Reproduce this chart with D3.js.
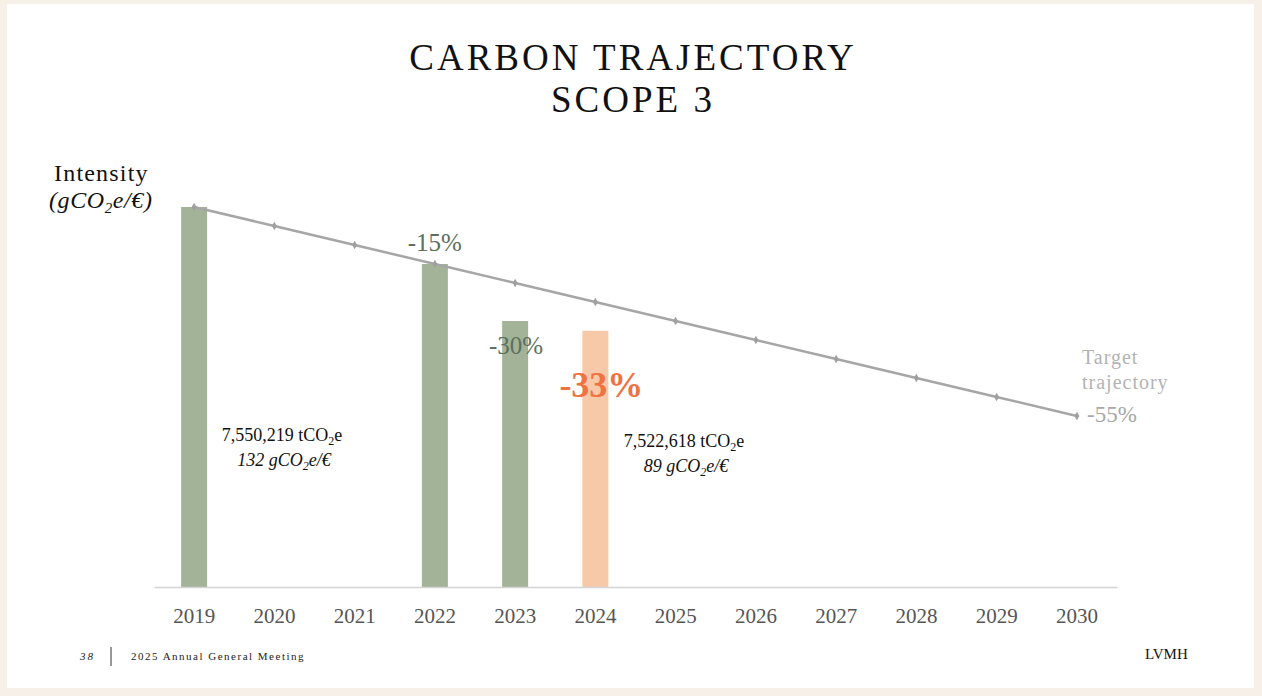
<!DOCTYPE html>
<html>
<head>
<meta charset="utf-8">
<script src="https://cdn.jsdelivr.net/npm/d3@7"></script>
<style>
  html, body { margin: 0; padding: 0; background: #f7f0e9; }
  svg { display: block; }
  text { font-family: "Liberation Serif", "DejaVu Serif", serif; }
</style>
</head>
<body>
<svg width="1262" height="696"></svg>
<script>
// chart data
var years = ["2019", "2020", "2021", "2022", "2023", "2024", "2025", "2026", "2027", "2028", "2029", "2030"];
var barYears = ["2019", "2022", "2023", "2024"];
var barValues = [132, 112.2, 92.4, 89];        // gCO2e/€
var targetValues = [132, 125.4, 118.8, 112.2, 105.6, 99, 92.4, 85.8, 79.2, 72.6, 66, 59.4];
var barLabels = ["", "-15%", "-30%", "-33%"];

var svg = d3.select("svg");

// white panel
svg.append("rect")
    .attr("x", 7).attr("y", 4)
    .attr("width", 1247).attr("height", 684)
    .attr("fill", "#ffffff");

// title
svg.append("text")
    .attr("x", 633).attr("y", 70)
    .attr("text-anchor", "middle")
    .style("font-size", "37px").style("letter-spacing", "3px")
    .attr("fill", "#111")
    .text("CARBON TRAJECTORY");
svg.append("text")
    .attr("x", 633).attr("y", 112)
    .attr("text-anchor", "middle")
    .style("font-size", "37px").style("letter-spacing", "3px")
    .attr("fill", "#111")
    .text("SCOPE 3");

var x = d3.scaleBand().domain(years).range([154, 1117]).padding(0),
    y = d3.scaleLinear().domain([0, 132]).range([587, 207]);

function cx(yr) { return x(yr) + x.bandwidth() / 2; }

var g = svg.append("g");

// bars
var barW = 26;
var bars = barYears.map(function(yr, i) { return {year: yr, value: barValues[i], label: barLabels[i]}; });
g.selectAll(".bar")
    .data(bars)
  .enter().append("rect")
    .attr("class", "bar")
    .attr("x", function(d) { return cx(d.year) - barW / 2; })
    .attr("y", function(d) { return y(d.value); })
    .attr("width", barW)
    .attr("height", function(d) { return y(0) - y(d.value); })
    .attr("fill", function(d) { return d.year === "2024" ? "#f7c9a9" : "#a3b398"; });

// x axis
var xAxis = g.append("g")
    .attr("transform", "translate(0," + y(0) + ")")
    .call(d3.axisBottom(x).tickSize(0).tickPadding(21));
xAxis.select(".domain").attr("stroke", "#d4d4d4").attr("stroke-width", 1.5);
xAxis.selectAll("text")
    .style("font-family", "'Liberation Serif', serif")
    .style("font-size", "21px")
    .attr("fill", "#555");

// target trajectory line
var line = d3.line()
    .x(function(d, i) { return cx(years[i]); })
    .y(function(d) { return y(d); });

g.append("path")
    .datum(targetValues)
    .attr("d", line)
    .attr("fill", "none")
    .attr("stroke", "#a6a6a6")
    .attr("stroke-width", 2.5);

g.selectAll(".pt")
    .data(targetValues)
  .enter().append("path")
    .attr("class", "pt")
    .attr("d", d3.symbol().type(d3.symbolDiamond).size(22))
    .attr("transform", function(d, i) { return "translate(" + cx(years[i]) + "," + y(d) + ")"; })
    .attr("fill", "#a0a0a0");

// reduction labels
g.append("text")
    .attr("x", cx("2022")).attr("y", 251)
    .attr("text-anchor", "middle")
    .style("font-size", "25px").attr("fill", "#5d6f5c")
    .text(bars[1].label);
g.append("text")
    .attr("x", cx("2023") + 1).attr("y", 354)
    .attr("text-anchor", "middle")
    .style("font-size", "25px").attr("fill", "#5d6f5c")
    .text(bars[2].label);
g.append("text")
    .attr("x", cx("2024") + 6).attr("y", 397)
    .attr("text-anchor", "middle")
    .style("font-size", "36px").style("font-weight", "bold").attr("fill", "#ee7242")
    .text(bars[3].label);

// target trajectory label
g.append("text")
    .attr("x", 1082).attr("y", 364)
    .style("font-size", "20px").style("letter-spacing", "1px").attr("fill", "#b3b3b3")
    .text("Target");
g.append("text")
    .attr("x", 1082).attr("y", 389)
    .style("font-size", "20px").style("letter-spacing", "1px").attr("fill", "#b3b3b3")
    .text("trajectory");
g.append("text")
    .attr("x", 1087).attr("y", 422)
    .style("font-size", "23px").attr("fill", "#a8a8a8")
    .text("-55%");

// absolute emissions notes
function emissionNote(xc, yb, total, intensity) {
  var t1 = g.append("text").attr("x", xc).attr("y", yb)
      .attr("text-anchor", "middle").style("font-size", "18px").attr("fill", "#111");
  t1.append("tspan").text(total + " tCO");
  t1.append("tspan").attr("dy", 4).style("font-size", "12px").text("2");
  t1.append("tspan").attr("dy", -4).text("e");
  var t2 = g.append("text").attr("x", xc + 2).attr("y", yb + 25)
      .attr("text-anchor", "middle").style("font-size", "18px").style("font-style", "italic").attr("fill", "#111");
  t2.append("tspan").text(intensity + " gCO");
  t2.append("tspan").attr("dy", 4).style("font-size", "12px").text("2");
  t2.append("tspan").attr("dy", -4).text("e/€");
}
emissionNote(282, 441, "7,550,219", "132");
emissionNote(684, 447, "7,522,618", "89");

// y axis title
svg.append("text")
    .attr("x", 54).attr("y", 181)
    .style("font-size", "24px").style("letter-spacing", "1.2px").attr("fill", "#111")
    .text("Intensity");
var yt = svg.append("text")
    .attr("x", 49).attr("y", 208)
    .style("font-size", "24px").style("font-style", "italic").style("letter-spacing", "0.6px").attr("fill", "#111");
yt.append("tspan").text("(gCO");
yt.append("tspan").attr("dy", 5).style("font-size", "15px").text("2");
yt.append("tspan").attr("dy", -5).text("e/€)");

// footer
svg.append("text")
    .attr("x", 80).attr("y", 660)
    .style("font-size", "11px").style("font-style", "italic").style("letter-spacing", "2px")
    .attr("fill", "#222")
    .text("38");
svg.append("line")
    .attr("x1", 111).attr("x2", 111).attr("y1", 647).attr("y2", 666)
    .attr("stroke", "#333").attr("stroke-width", 1);
svg.append("text")
    .attr("x", 131).attr("y", 660)
    .style("font-size", "11px").style("letter-spacing", "1.5px")
    .attr("fill", "#222")
    .text("2025 Annual General Meeting");
svg.append("text")
    .attr("x", 1145).attr("y", 659)
    .style("font-size", "15px")
    .attr("fill", "#111")
    .text("LVMH");
</script>
</body>
</html>
